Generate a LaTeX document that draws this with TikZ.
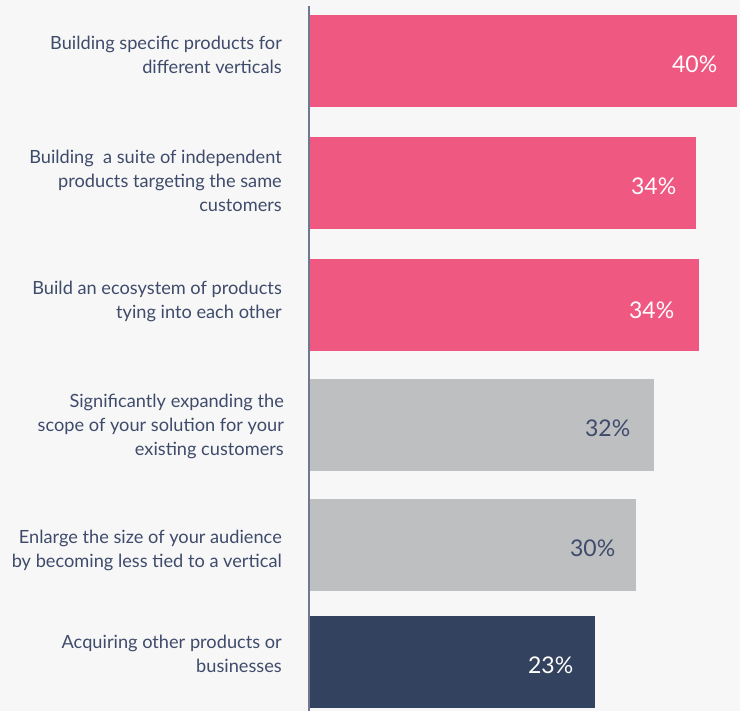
\documentclass[tikz,border=0pt]{standalone}
\usepackage{fontspec}
\setmainfont{Lato}
\usepackage{tikz}
\usetikzlibrary{positioning}
\definecolor{bgcol}{HTML}{F7F7F7}
\definecolor{barpink}{HTML}{EF5881}
\definecolor{bargray}{HTML}{BEBFC1}
\definecolor{barnavy}{HTML}{33425E}
\definecolor{txtnavy}{HTML}{3F4B6B}
\definecolor{axiscol}{HTML}{6E7891}
\tikzstyle{bar} = [rectangle, minimum height=92, inner sep=0pt, anchor=west]
\tikzstyle{label} = [align=right, anchor=east, inner sep=0pt, text=txtnavy, font=\fontsize{18.2}{24}\selectfont]
\tikzstyle{pct} = [inner sep=0pt, yshift=-3pt, font=\fontsize{23}{26}\selectfont]
\tikzstyle{axis} = [line width=1.5pt, axiscol]

\begin{document}
\begin{tikzpicture}[x=1pt, y=-1pt]

			\fill[bgcol] (0,0) rectangle (740,711);
			\useasboundingbox (0,0) rectangle (740,711);

			\node (b1) [bar, fill=barpink, minimum width=428] at (309,61) {};
			\node (b2) [bar, fill=barpink, minimum width=387] at (309,183) {};
			\node (b3) [bar, fill=barpink, minimum width=390] at (309,305) {};
			\node (b4) [bar, fill=bargray, minimum width=345] at (309,425) {};
			\node (b5) [bar, fill=bargray, minimum width=327] at (309,545) {};
			\node (b6) [bar, fill=barnavy, minimum width=286] at (309,662) {};

			\node (p1) [pct, text=white, left=20pt of b1.east] {40\%};
			\node (p2) [pct, text=white, left=20pt of b2.east] {34\%};
			\node (p3) [pct, text=white, left=25pt of b3.east, yshift=-2pt] {34\%};
			\node (p4) [pct, text=txtnavy, left=24pt of b4.east] {32\%};
			\node (p5) [pct, text=txtnavy, left=21pt of b5.east] {30\%};
			\node (p6) [pct, text=white, left=22pt of b6.east] {23\%};

			\node (l1) [label] at (282,55) {Building specific products for\\different verticals};
			\node (l2) [label] at (282,181) {Building\ \ a suite of independent\\products targeting the same\\customers};
			\node (l3) [label] at (282,301) {Build an ecosystem of products\\tying into each other};
			\node (l4) [label] at (284,426) {Significantly expanding the\\scope of your solution for your\\existing customers};
			\node (l5) [label] at (282,550) {Enlarge the size of your audience\\by becoming less tied to a vertical};
			\node (l6) [label] at (282,654) {Acquiring other products or\\businesses};

			\coordinate (axtop) at (309,6);
			\coordinate (axbot) at (309,711);
			\draw[axis] (axtop) -- (axbot);

\end{tikzpicture}
\end{document}
